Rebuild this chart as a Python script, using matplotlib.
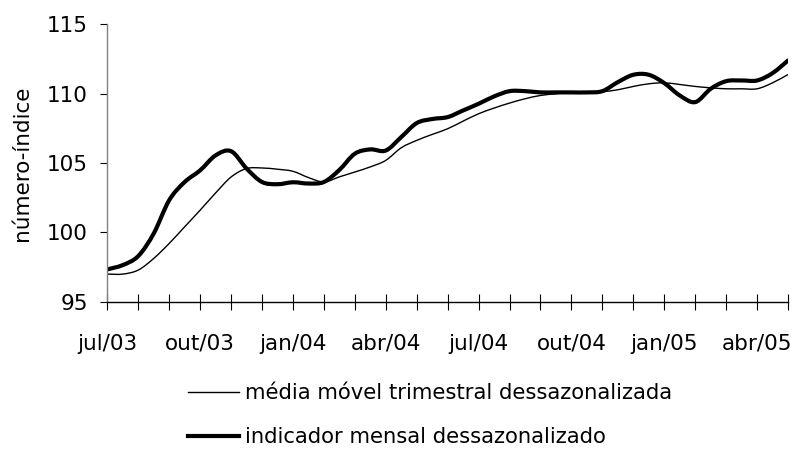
import numpy as np
import matplotlib
matplotlib.use("Agg")
import matplotlib.pyplot as plt
from matplotlib.path import Path
from matplotlib.patches import PathPatch
from matplotlib.lines import Line2D

# meses no eixo (jul/03 .. mai/05), um tick por mês
tick_labels = ['jul/03', '', '', 'out/03', '', '', 'jan/04', '', '', 'abr/04', '', '',
               'jul/04', '', '', 'out/04', '', '', 'jan/05', '', '', 'abr/05', '']

# valores lidos a cada meio mês
media_movel = [96.99, 96.99, 97.28, 98.12, 99.20, 100.40, 101.60, 102.84, 103.99, 104.60,
               104.64, 104.55, 104.40, 103.95, 103.63, 104.00, 104.35, 104.72, 105.19, 106.10,
               106.63, 107.06, 107.47, 108.02, 108.55, 108.96, 109.32, 109.63, 109.87, 109.99,
               110.09, 110.09, 110.14, 110.28, 110.52, 110.71, 110.78, 110.66, 110.52, 110.42,
               110.35, 110.35, 110.35, 110.78, 111.38]
indicador = [97.33, 97.64, 98.29, 99.92, 102.32, 103.63, 104.47, 105.55, 105.85, 104.60,
             103.63, 103.47, 103.61, 103.52, 103.63, 104.50, 105.67, 105.98, 105.90, 106.87,
             107.88, 108.17, 108.31, 108.79, 109.27, 109.80, 110.18, 110.18, 110.09, 110.09,
             110.09, 110.09, 110.18, 110.83, 111.36, 111.36, 110.76, 109.87, 109.39, 110.35,
             110.90, 110.95, 110.95, 111.48, 112.39]

x = np.arange(len(indicador)) / 2.0


def smooth_path(xs, ys):
    # linha suavizada tipo Excel (bezier cubico, catmull-rom)
    p = np.column_stack([xs, ys])
    n = len(p)
    verts = [p[0]]
    codes = [Path.MOVETO]
    for i in range(n - 1):
        p0 = p[i - 1] if i > 0 else p[i]
        p3 = p[i + 2] if i + 2 < n else p[i + 1]
        c1 = p[i] + (p[i + 1] - p0) / 6.0
        c2 = p[i + 1] - (p3 - p[i]) / 6.0
        verts += [c1, c2, p[i + 1]]
        codes += [Path.CURVE4] * 3
    return Path(verts, codes)


plt.rcParams['font.family'] = ['DejaVu Sans']
fig = plt.figure(figsize=(7.98, 4.5), dpi=100)
ax = fig.add_axes([0.1345, 0.3296, 0.853, 0.6164])

ax.add_patch(PathPatch(smooth_path(x, media_movel), fill=False, ec='black', lw=1.0,
                       joinstyle='round'))
ax.add_patch(PathPatch(smooth_path(x, indicador), fill=False, ec='black', lw=3.0,
                       joinstyle='round', capstyle='round'))

ax.set_xlim(0, 22)
ax.set_ylim(95, 115)
ax.set_xticks(range(23))
ax.set_xticklabels(tick_labels, fontsize=15.5)
ax.set_yticks([95, 100, 105, 110, 115])
ax.tick_params(axis='y', labelsize=15.5, length=5, width=0.8, direction='out', pad=9)
ax.tick_params(axis='x', length=12, width=0.8, direction='inout', pad=17)

for s in ['top', 'right']:
    ax.spines[s].set_visible(False)
ax.spines['left'].set_color('#808080')
ax.spines['left'].set_linewidth(1.0)
ax.spines['bottom'].set_linewidth(1.0)

ax.set_ylabel('número-índice', fontsize=15.5, labelpad=11)

h1 = Line2D([], [], color='black', lw=1.0)
h2 = Line2D([], [], color='black', lw=3.0)
fig.legend(handles=[h1, h2],
           labels=['média móvel trimestral dessazonalizada', 'indicador mensal dessazonalizado'],
           loc='upper left', bbox_to_anchor=(0.235, 0.149),
           frameon=False, fontsize=15.2, handlelength=2.45, handletextpad=0.27,
           labelspacing=1.15, borderpad=0, borderaxespad=0)

fig.savefig('out.png', dpi=100)
